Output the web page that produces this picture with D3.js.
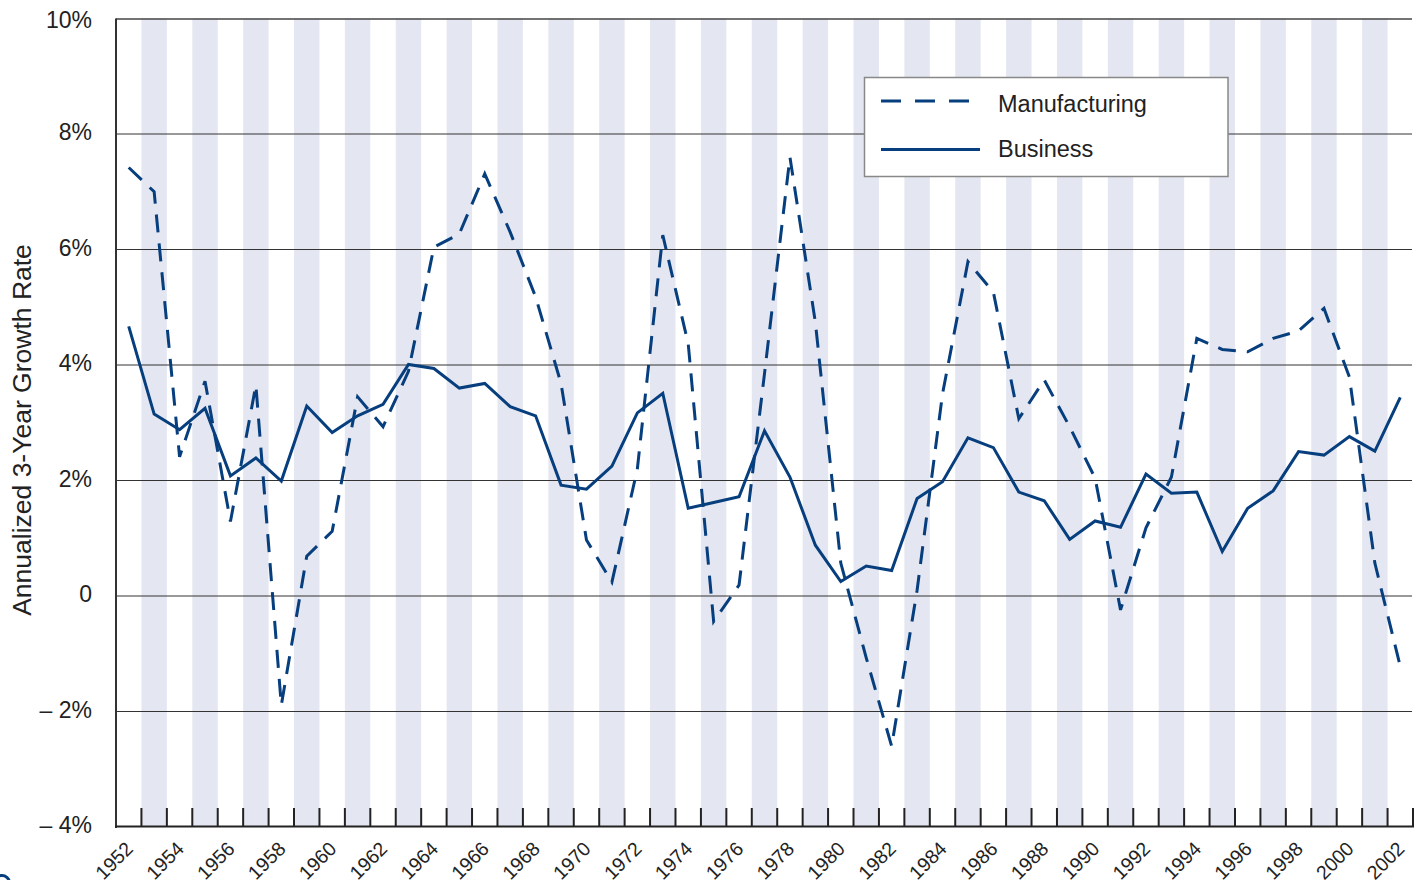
<!DOCTYPE html>
<html>
<head>
<meta charset="utf-8">
<script src="https://cdn.jsdelivr.net/npm/d3@7"></script>
<style>
  html, body { margin: 0; padding: 0; background: #fff; }
  svg { display: block; font-family: "Liberation Sans", Arial, Helvetica, sans-serif; }
</style>
</head>
<body>
<svg id="chart" width="1424" height="880"></svg>
<script>
const years = [1952,1953,1954,1955,1956,1957,1958,1959,1960,1961,1962,1963,1964,1965,1966,1967,1968,1969,1970,1971,1972,1973,1974,1975,1976,1977,1978,1979,1980,1981,1982,1983,1984,1985,1986,1987,1988,1989,1990,1991,1992,1993,1994,1995,1996,1997,1998,1999,2000,2001,2002];
const manufacturing = [7.42,7.0,2.41,3.72,1.29,3.65,-1.89,0.69,1.12,3.45,2.93,3.89,6.04,6.27,7.31,6.3,5.18,3.68,0.97,0.24,2.2,6.25,4.37,-0.44,0.19,3.85,7.6,4.74,0.57,-1.07,-2.6,0.1,3.5,5.79,5.26,3.07,3.74,2.93,2.04,-0.24,1.18,2.06,4.46,4.27,4.23,4.46,4.59,4.98,3.79,0.57,-1.22];
const business = [4.67,3.15,2.88,3.25,2.08,2.39,1.99,3.29,2.83,3.12,3.32,4.01,3.94,3.60,3.68,3.28,3.12,1.92,1.85,2.25,3.17,3.51,1.52,1.62,1.72,2.86,2.06,0.88,0.25,0.52,0.44,1.69,1.98,2.74,2.57,1.80,1.65,0.98,1.30,1.19,2.11,1.78,1.80,0.77,1.52,1.82,2.50,2.44,2.76,2.51,3.44];
const yTicks = [-4,-2,0,2,4,6,8,10];
const yTickLabels = ["\u2013 4%","\u2013 2%","0","2%","4%","6%","8%","10%"];
const yearLabels = [1952,1954,1956,1958,1960,1962,1964,1966,1968,1970,1972,1974,1976,1978,1980,1982,1984,1986,1988,1990,1992,1994,1996,1998,2000,2002];
const seriesNames = ["Manufacturing","Business"];
const yTitle = "Annualized 3-Year Growth Rate";

(function () {
const navy = "#073e7d";
const svg = d3.select("#chart");
const pL = 116, pR = 1413, pT = 18.5, pB = 827;

const x = d3.scaleBand().domain(years).range([pL, pR]).padding(0);
const bw = x.bandwidth();
const cx = d => x(d) + bw / 2;
const y = d3.scaleLinear().domain([-4, 10]).range([pB, pT]);

// shaded bands for odd years
svg.append("g").selectAll("rect")
  .data(years.filter(d => d % 2 === 1))
  .join("rect")
  .attr("x", d => x(d)).attr("width", bw)
  .attr("y", pT).attr("height", pB - pT)
  .attr("fill", "#e4e7f1");

// grid lines
svg.append("g").selectAll("line")
  .data(yTicks.filter(v => v > -4 && v < 10))
  .join("line")
  .attr("x1", pL).attr("x2", pR - 1)
  .attr("y1", d => y(d)).attr("y2", d => y(d))
  .attr("stroke", "#333").attr("stroke-width", 1);

// top frame line
svg.append("line").attr("x1", pL).attr("x2", pR - 1)
  .attr("y1", Math.round(y(10))).attr("y2", Math.round(y(10)))
  .attr("stroke", "#444").attr("stroke-width", 1.5);

// y axis labels
const yAxis = d3.axisLeft(y).tickValues(yTicks)
  .tickFormat((d, i) => yTickLabels[i]).tickSize(0).tickPadding(0);
const ya = svg.append("g").attr("transform", `translate(${pL - 24},0)`).call(yAxis);
ya.select(".domain").remove();
ya.selectAll("text").attr("font-size", 23).attr("fill", "#222")
  .attr("font-family", "Liberation Sans, Arial, sans-serif")
  .attr("dy", "0.33em").attr("y", d => d === 10 ? 1.5 : -2);

// bottom axis ticks at band boundaries
const tickPos = years.slice(1).map(d => x(d)).concat([pR]);
svg.append("g").selectAll("line")
  .data(tickPos).join("line")
  .attr("x1", d => d).attr("x2", d => d)
  .attr("y1", 808).attr("y2", pB)
  .attr("stroke", "#222").attr("stroke-width", 2);

// axis lines
svg.append("line").attr("x1", pL).attr("x2", pL)
  .attr("y1", pT).attr("y2", pB + 1)
  .attr("stroke", "#333").attr("stroke-width", 2);
svg.append("line").attr("x1", pL - 1).attr("x2", pR + 1)
  .attr("y1", pB - 0.5).attr("y2", pB - 0.5)
  .attr("stroke", "#222").attr("stroke-width", 2);

// year labels
svg.append("g").selectAll("text")
  .data(yearLabels).join("text")
  .attr("transform", d => `translate(${cx(d) + 5.5},850) rotate(-45)`)
  .attr("text-anchor", "end")
  .attr("font-size", 19.5).attr("fill", "#222")
  .text(d => d);

// y title
svg.append("text")
  .attr("transform", "translate(31,430) rotate(-90)")
  .attr("text-anchor", "middle")
  .attr("font-size", 26.5).attr("fill", "#222")
  .text(yTitle);

// lines
const lineGen = d3.line().x((d, i) => cx(years[i])).y(d => y(d));
svg.append("path").datum(manufacturing)
  .attr("d", lineGen).attr("fill", "none")
  .attr("stroke", navy).attr("stroke-width", 3)
  .attr("stroke-dasharray", "18,11")
  .attr("stroke-linejoin", "miter");
svg.append("path").datum(business)
  .attr("d", lineGen).attr("fill", "none")
  .attr("stroke", navy).attr("stroke-width", 3)
  .attr("stroke-linejoin", "miter");

// legend
const lg = svg.append("g");
lg.append("rect").attr("x", 864.5).attr("y", 77.5).attr("width", 363.5).attr("height", 99)
  .attr("fill", "#fff").attr("stroke", "#888").attr("stroke-width", 1.5);
lg.append("line").attr("x1", 881).attr("x2", 969).attr("y1", 101).attr("y2", 101)
  .attr("stroke", navy).attr("stroke-width", 3).attr("stroke-dasharray", "20,14");
lg.append("line").attr("x1", 881).attr("x2", 980).attr("y1", 149.5).attr("y2", 149.5)
  .attr("stroke", navy).attr("stroke-width", 3);
lg.selectAll("text.lt").data(seriesNames).join("text")
  .attr("class", "lt")
  .attr("x", 998).attr("y", (d, i) => i === 0 ? 112 : 157)
  .attr("font-size", 23.5).attr("fill", "#222")
  .text(d => d);

// partial logo glyph at bottom-left corner
svg.append("path")
  .attr("d", d3.arc()({innerRadius: 6, outerRadius: 9, startAngle: -Math.PI * 0.6, endAngle: Math.PI * 0.5}))
  .attr("transform", "translate(2,883)")
  .attr("fill", navy);
})();
</script>
</body>
</html>
